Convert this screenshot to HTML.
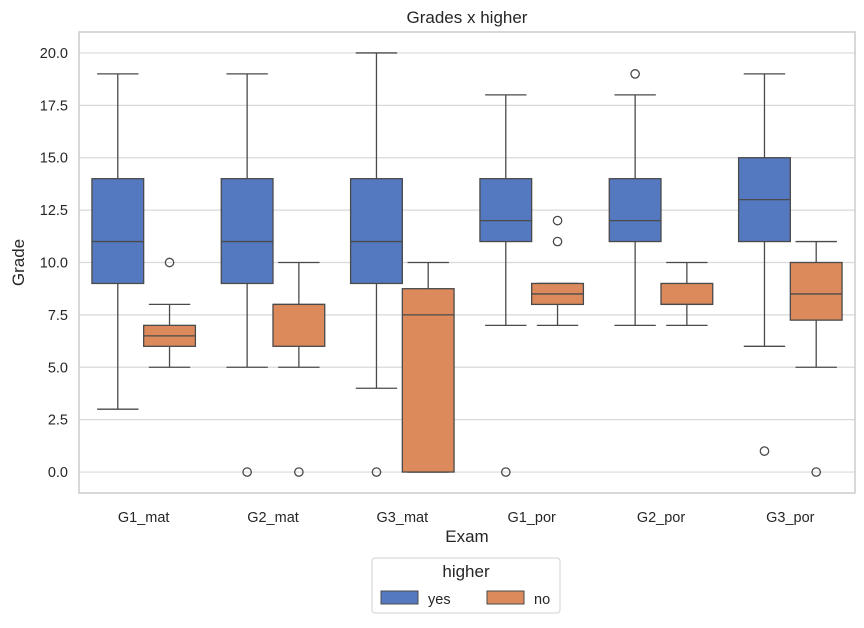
<!DOCTYPE html>
<html><head><meta charset="utf-8"><style>
body{margin:0;background:#fff;font-family:"Liberation Sans",sans-serif;}
</style></head><body>
<svg id="c" width="864" height="623" xmlns="http://www.w3.org/2000/svg" font-family="Liberation Sans, sans-serif" fill="#262626"></svg>
<script>
const categories=["G1_mat","G2_mat","G3_mat","G1_por","G2_por","G3_por"];
const hues=["yes","no"];
const colors=["#5579c0","#dc8a5c"];
// [whiskerLow, q1, median, q3, whiskerHigh]
const yesStats=[[3,9,11,14,19],[5,9,11,14,19],[4,9,11,14,20],[7,11,12,14,18],[7,11,12,14,18],[6,11,13,15,19]];
const noStats=[[5,6,6.5,7,8],[5,6,8,8,10],[0,0,7.5,8.75,10],[7,8,8.5,9,9],[7,8,8,9,10],[5,7.25,8.5,10,11]];
const yesOutliers=[[],[0],[0],[0],[19],[1]];
const noOutliers=[[10],[0],[],[11,12],[],[0]];
const yTicks=[0,2.5,5,7.5,10,12.5,15,17.5,20];

const svg=document.getElementById('c');
const NS="http://www.w3.org/2000/svg";
const L=79,R=855,T=32,B=493;
const yMin=-1,yMax=21;
function y(v){return B-(v-yMin)/(yMax-yMin)*(B-T);}
const bw=(R-L)/categories.length;
function xc(i){return L+bw*(i+0.5);}
function mk(tag,attrs,parent){const e=document.createElementNS(NS,tag);for(const k in attrs)e.setAttribute(k,attrs[k]);(parent||svg).appendChild(e);return e;}

const grid=mk('g',{});


yTicks.forEach(t=>{
  mk('line',{x1:L,x2:R,y1:y(t),y2:y(t),stroke:'#d9d9d9','stroke-width':1.2},grid);
  const tx=mk('text',{x:L-11,y:y(t)+5,'text-anchor':'end','font-size':14.5});
  tx.textContent=t.toFixed(1);
  
  
});
categories.forEach((c,i)=>{
  const tx=mk('text',{x:xc(i),y:522,'text-anchor':'middle','font-size':14.5});
  tx.textContent=c;
  
  
});
function drawBox(st,outs,i,h){
  const w=bw*0.4, x0=xc(i)-bw*0.4+h*w, cx=x0+w/2, cw=w*0.4;
  const g=mk('g',{stroke:'#4a4a4a','stroke-width':1.3,fill:'none'});
  
  
  mk('line',{x1:cx,x2:cx,y1:y(st[0]),y2:y(st[1])},g);
  mk('line',{x1:cx,x2:cx,y1:y(st[3]),y2:y(st[4])},g);
  mk('line',{x1:cx-cw,x2:cx+cw,y1:y(st[0]),y2:y(st[0])},g);
  mk('line',{x1:cx-cw,x2:cx+cw,y1:y(st[4]),y2:y(st[4])},g);
  mk('rect',{x:x0,y:y(st[3]),width:w,height:Math.max(0,y(st[1])-y(st[3])),fill:colors[h]},g);
  mk('line',{x1:x0,x2:x0+w,y1:y(st[2]),y2:y(st[2])},g);
  outs.forEach(o=>mk('circle',{cx:cx,cy:y(o),r:4.2,fill:'none'},g));
}
categories.forEach((c,i)=>{drawBox(yesStats[i],yesOutliers[i],i,0);drawBox(noStats[i],noOutliers[i],i,1);});
const fr=mk('rect',{x:L,y:T,width:R-L,height:B-T,fill:'none',stroke:'#cccccc','stroke-width':1.5});


let t;
t=mk('text',{x:(L+R)/2,y:23,'text-anchor':'middle','font-size':17});t.textContent='Grades x higher';


t=mk('text',{x:(L+R)/2,y:542,'text-anchor':'middle','font-size':17});t.textContent='Exam';


t=mk('text',{x:24,y:(T+B)/2,'text-anchor':'middle','font-size':17,transform:'rotate(-90 24 '+(T+B)/2+')'});t.textContent='Grade';


const lg=mk('g',{});


mk('rect',{x:372,y:558,width:188,height:55,rx:3,fill:'#fff',stroke:'#d0d0d0'},lg);
t=mk('text',{x:466,y:577,'text-anchor':'middle','font-size':17},lg);t.textContent='higher';


hues.forEach((h,k)=>{
  const ex=381+k*106;
  const e=mk('g',{},lg);
  
  
  mk('rect',{x:ex,y:591,width:37,height:13,fill:colors[k],stroke:'#4a4a4a','stroke-width':1},e);
  const tt=mk('text',{x:ex+47,y:604,'font-size':14.5},e);tt.textContent=h;
});
</script>
</body></html>
